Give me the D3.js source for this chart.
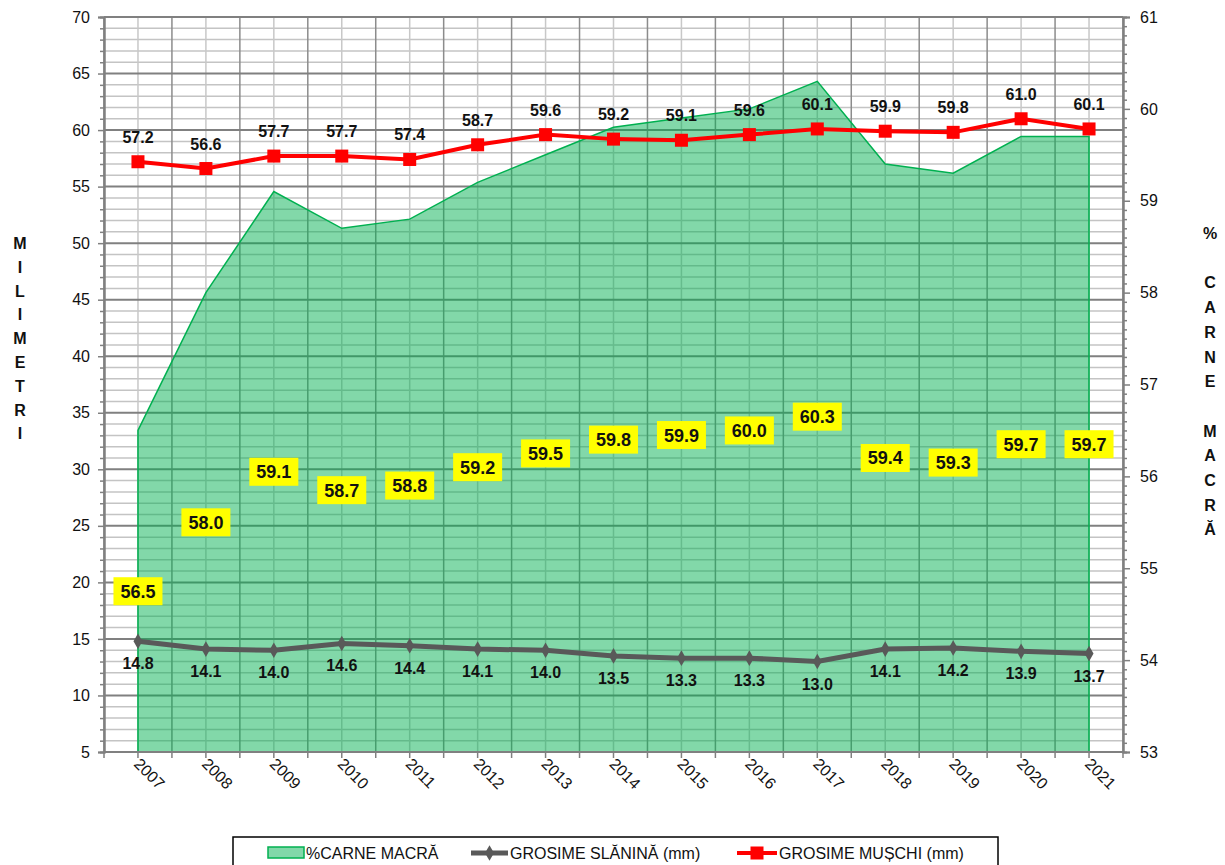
<!DOCTYPE html>
<html>
<head>
<meta charset="utf-8">
<script src="https://cdn.jsdelivr.net/npm/d3@7"></script>
<style>
  body { margin: 0; background: #fff; }
  svg { font-family: "Liberation Sans", Arial, sans-serif; }
</style>
</head>
<body>
<div id="chart"></div>
<script>
// chart data
var years = ["2007","2008","2009","2010","2011","2012","2013","2014","2015","2016","2017","2018","2019","2020","2021"];
var carneMacra = [56.5, 58.0, 59.1, 58.7, 58.8, 59.2, 59.5, 59.8, 59.9, 60.0, 60.3, 59.4, 59.3, 59.7, 59.7];
var grosimeSlanina = [14.8, 14.1, 14.0, 14.6, 14.4, 14.1, 14.0, 13.5, 13.3, 13.3, 13.0, 14.1, 14.2, 13.9, 13.7];
var grosimeMuschi = [57.2, 56.6, 57.7, 57.7, 57.4, 58.7, 59.6, 59.2, 59.1, 59.6, 60.1, 59.9, 59.8, 61.0, 60.1];
var leftTicks = [5, 10, 15, 20, 25, 30, 35, 40, 45, 50, 55, 60, 65, 70];
var rightTicks = [53, 54, 55, 56, 57, 58, 59, 60, 61];
var leftTitle = "MILIMETRI".split("");
var rightTitle = ["%", "", "C", "A", "R", "N", "E", "", "M", "A", "C", "R", "Ă"];
var legendLabels = ["%CARNE MACRĂ", "GROSIME SLĂNINĂ (mm)", "GROSIME MUȘCHI (mm)"];

(function() {
var W = 1225, H = 865;
var pl = 104, pr = 1123, pt = 17, pb = 752;

var svg = d3.select("#chart").append("svg")
    .attr("width", W)
    .attr("height", H);

var x = d3.scaleBand().domain(years).range([pl, pr]).padding(0);
var cx = function(d, i) { return x(years[i]) + x.bandwidth() / 2; };
var yL = d3.scaleLinear().domain([5, 70]).range([pb, pt]);
var yR = d3.scaleLinear().domain([53, 61]).range([pb, pt]);

// grid
var grid = svg.append("g");
var minorH = d3.range(5, 71, 1).filter(function(v) { return v % 5 !== 0; });
grid.selectAll(".hmin").data(minorH).enter().append("line")
    .attr("x1", pl).attr("x2", pr)
    .attr("y1", function(d) { return yL(d); }).attr("y2", function(d) { return yL(d); })
    .style("stroke", "#c4c4c4").style("stroke-width", 1.5);
var edges = years.map(function(d) { return x(d); }).concat([pr]);
grid.selectAll(".vmin").data(years).enter().append("line")
    .attr("x1", function(d, i) { return cx(d, i); }).attr("x2", function(d, i) { return cx(d, i); })
    .attr("y1", pt).attr("y2", pb)
    .style("stroke", "#c8c8c8").style("stroke-width", 1.5);
grid.selectAll(".vmaj").data(edges).enter().append("line")
    .attr("x1", function(d) { return d; }).attr("x2", function(d) { return d; })
    .attr("y1", pt).attr("y2", pb)
    .style("stroke", "#8c8c8c").style("stroke-width", 1.5);
grid.selectAll(".hmaj").data(leftTicks).enter().append("line")
    .attr("x1", pl).attr("x2", pr)
    .attr("y1", function(d) { return yL(d); }).attr("y2", function(d) { return yL(d); })
    .style("stroke", "#808080").style("stroke-width", 2);

// area
var area = d3.area()
    .x(function(d, i) { return cx(d, i); })
    .y0(yR(53))
    .y1(function(d) { return yR(d); });
svg.append("path")
    .datum(carneMacra)
    .attr("d", area)
    .style("fill", "#00B050")
    .style("fill-opacity", 0.49)
    .style("stroke", "#00B050")
    .style("stroke-width", 1.5);

// axes
svg.append("g").attr("transform", "translate(" + pl + ",0)")
    .call(d3.axisLeft(yL).tickValues(leftTicks).tickSize(6).tickPadding(8));
svg.append("g").attr("transform", "translate(" + pl + ",0)")
    .call(d3.axisLeft(yL).tickValues(minorH).tickSize(4).tickFormat(""));
svg.append("g").attr("transform", "translate(" + pr + ",0)")
    .call(d3.axisRight(yR).tickValues(rightTicks).tickSize(7).tickPadding(10));
var minorR = d3.range(530, 611, 1).filter(function(v) { return v % 10 !== 0; }).map(function(v) { return v / 10; });
svg.append("g").attr("transform", "translate(" + pr + ",0)")
    .call(d3.axisRight(yR).tickValues(minorR).tickSize(4).tickFormat(""));
var xTicks = edges.concat(years.map(function(d, i) { return cx(d, i); }));
svg.append("g").selectAll("line").data(xTicks).enter().append("line")
    .attr("x1", function(d) { return d; }).attr("x2", function(d) { return d; })
    .attr("y1", pb).attr("y2", pb + 6)
    .style("stroke", "#808080").style("stroke-width", 1.5);
svg.append("line")
    .attr("x1", pl).attr("x2", pr).attr("y1", pb).attr("y2", pb)
    .style("stroke", "#808080").style("stroke-width", 2);

svg.selectAll(".domain").style("stroke", "#808080").style("stroke-width", 2);
svg.selectAll(".tick line").style("stroke", "#808080").style("stroke-width", 1.5);
svg.selectAll(".tick text").style("font-size", "16px").style("fill", "#111");

// year labels
svg.append("g").selectAll("text").data(years).enter().append("text")
    .attr("transform", function(d, i) { return "translate(" + (cx(d, i) - 5) + "," + (pb + 13) + ") rotate(45)"; })
    .style("font-size", "16px")
    .style("fill", "#111")
    .text(function(d) { return d; });

// grey line
var lineL = d3.line()
    .x(function(d, i) { return cx(d, i); })
    .y(function(d) { return yL(d); });
svg.append("path").datum(grosimeSlanina).attr("d", lineL)
    .style("fill", "none").style("stroke", "#595959").style("stroke-width", 5);
svg.append("g").selectAll("path").data(grosimeSlanina).enter().append("path")
    .attr("d", d3.symbol(d3.symbolDiamond, 70))
    .attr("transform", function(d, i) { return "translate(" + cx(d, i) + "," + yL(d) + ")"; })
    .style("fill", "#595959");
svg.append("g").selectAll("text").data(grosimeSlanina).enter().append("text")
    .attr("x", function(d, i) { return cx(d, i); })
    .attr("y", function(d) { return yL(d) + 28; })
    .attr("text-anchor", "middle")
    .style("font-size", "16px").style("font-weight", "bold").style("fill", "#111")
    .text(function(d) { return d.toFixed(1); });

// red line
svg.append("path").datum(grosimeMuschi).attr("d", lineL)
    .style("fill", "none").style("stroke", "#FF0000").style("stroke-width", 4);
svg.append("g").selectAll("rect").data(grosimeMuschi).enter().append("rect")
    .attr("x", function(d, i) { return cx(d, i) - 6.5; })
    .attr("y", function(d) { return yL(d) - 6.5; })
    .attr("width", 13).attr("height", 13)
    .style("fill", "#FF0000");
svg.append("g").selectAll("text").data(grosimeMuschi).enter().append("text")
    .attr("x", function(d, i) { return cx(d, i); })
    .attr("y", function(d) { return yL(d) - 19; })
    .attr("text-anchor", "middle")
    .style("font-size", "16px").style("font-weight", "bold").style("fill", "#111")
    .text(function(d) { return d.toFixed(1); });

// yellow labels for the area
var lab = svg.append("g").selectAll("g").data(carneMacra).enter().append("g")
    .attr("transform", function(d, i) { return "translate(" + cx(d, i) + "," + ((yR(d) + yR(53)) / 2) + ")"; });
lab.append("rect")
    .attr("x", -24.5).attr("y", -14).attr("width", 49).attr("height", 28)
    .style("fill", "#FFFF00");
lab.append("text")
    .attr("text-anchor", "middle")
    .attr("dy", "0.36em")
    .style("font-size", "18px").style("font-weight", "bold").style("fill", "#111")
    .text(function(d) { return d.toFixed(1); });

// axis titles
svg.append("g").selectAll("text").data(leftTitle).enter().append("text")
    .attr("x", 20).attr("y", function(d, i) { return 249 + i * 23.8; })
    .attr("text-anchor", "middle")
    .style("font-size", "16px").style("font-weight", "bold").style("fill", "#111")
    .text(function(d) { return d; });
svg.append("g").selectAll("text").data(rightTitle).enter().append("text")
    .attr("x", 1210).attr("y", function(d, i) { return 239 + i * 24.7; })
    .attr("text-anchor", "middle")
    .style("font-size", "16px").style("font-weight", "bold").style("fill", "#111")
    .text(function(d) { return d; });

// legend
var lg = svg.append("g");
lg.append("rect")
    .attr("x", 233).attr("y", 837).attr("width", 765).attr("height", 40)
    .style("fill", "#fff").style("stroke", "#000").style("stroke-width", 1.5);
lg.append("rect")
    .attr("x", 268).attr("y", 847).attr("width", 36).attr("height", 11)
    .style("fill", "#00B050").style("fill-opacity", 0.49)
    .style("stroke", "#00B050").style("stroke-width", 1.5);
lg.append("line").attr("x1", 471).attr("x2", 508).attr("y1", 853).attr("y2", 853)
    .style("stroke", "#595959").style("stroke-width", 5);
lg.append("path").attr("d", d3.symbol(d3.symbolDiamond, 70))
    .attr("transform", "translate(489.5,853)").style("fill", "#595959");
lg.append("line").attr("x1", 737).attr("x2", 777).attr("y1", 853).attr("y2", 853)
    .style("stroke", "#FF0000").style("stroke-width", 4);
lg.append("rect").attr("x", 750.5).attr("y", 846.5).attr("width", 13).attr("height", 13)
    .style("fill", "#FF0000");
var legX = [306, 510, 779];
lg.selectAll("text").data(legendLabels).enter().append("text")
    .attr("x", function(d, i) { return legX[i]; })
    .attr("y", 859)
    .style("font-size", "16px").style("fill", "#111")
    .text(function(d) { return d; });
})();
</script>
</body>
</html>
